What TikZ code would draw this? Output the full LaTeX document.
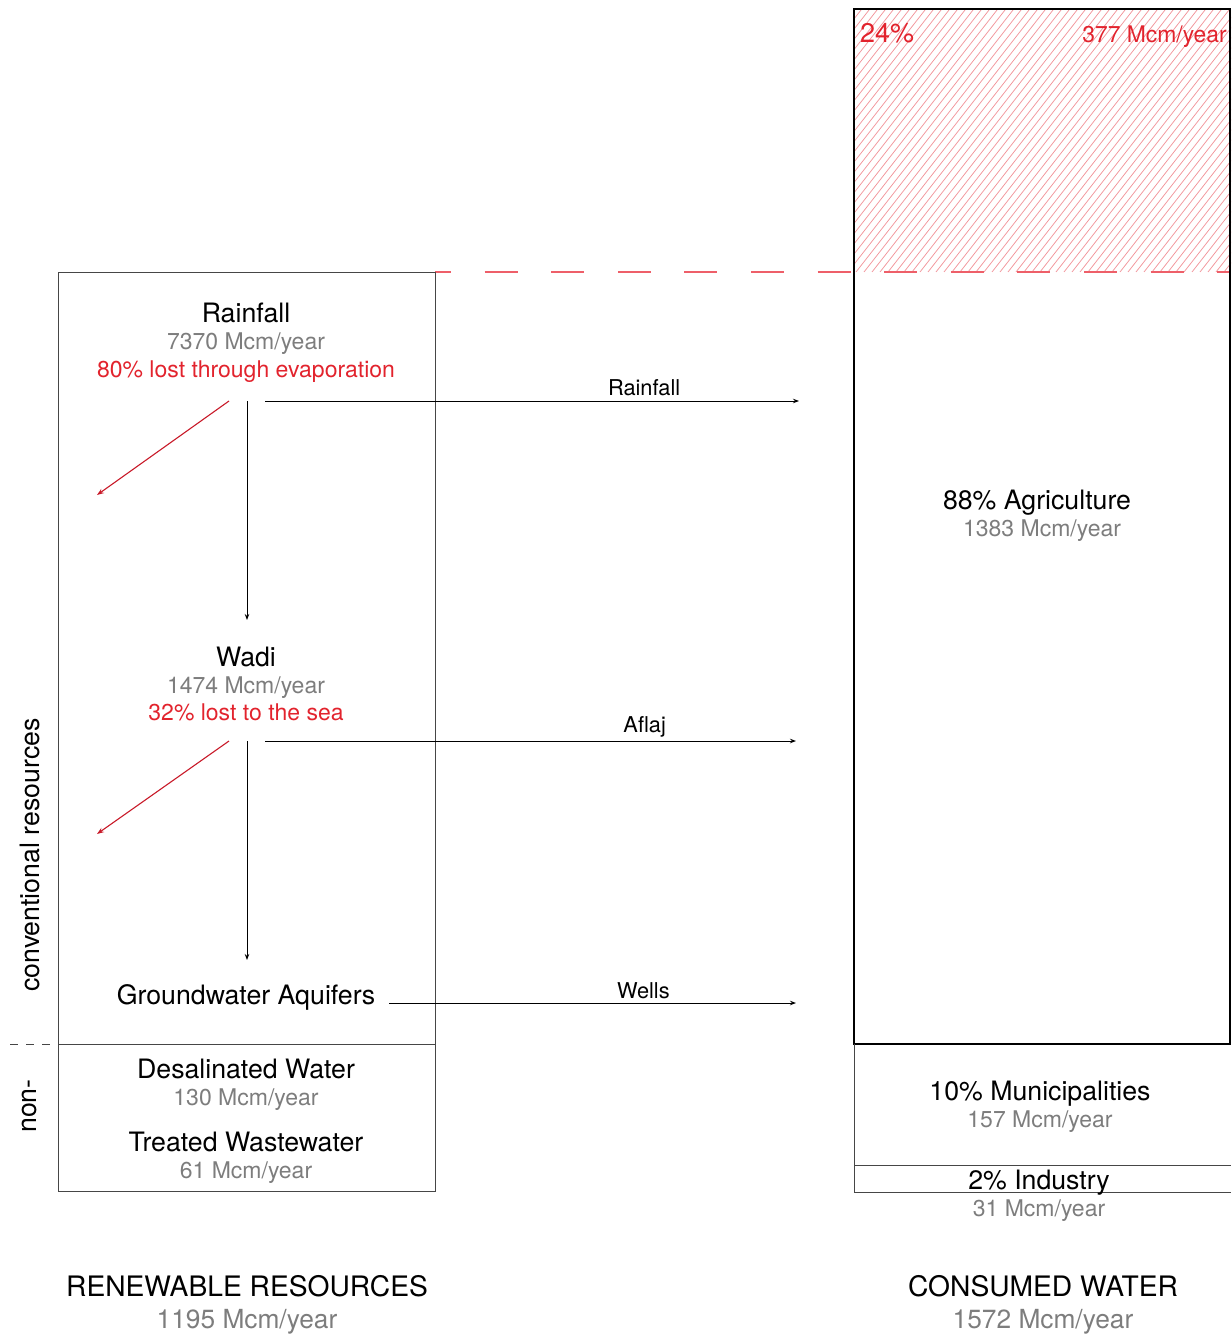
\documentclass[tikz,border=0pt]{standalone}
\usepackage{fontspec}
\setmainfont{TeX Gyre Heros}
\usetikzlibrary{arrows.meta}
\definecolor{accred}{RGB}{226,35,45}
\definecolor{lossred}{RGB}{200,25,40}
\definecolor{dashred}{RGB}{238,95,105}
\definecolor{txtgray}{RGB}{125,125,125}
\definecolor{hatchred}{RGB}{242,150,156}
\definecolor{boxgray}{RGB}{70,70,70}
\begin{document}
\begin{tikzpicture}[x=1pt,y=-1pt,
  title/.style={font=\fontsize{26.7}{30}\selectfont, text=black, inner sep=0pt, anchor=base},
  sub/.style={font=\fontsize{23}{26}\selectfont, text=txtgray, inner sep=0pt, anchor=base},
  redt/.style={font=\fontsize{23}{26}\selectfont, text=accred, inner sep=0pt, anchor=base},
  flowlbl/.style={font=\fontsize{21.8}{24}\selectfont, text=black, inner sep=0pt, anchor=base},
  big/.style={font=\fontsize{28.2}{32}\selectfont, text=black, inner sep=0pt, anchor=base},
  bigsub/.style={font=\fontsize{26.3}{30}\selectfont, text=txtgray, inner sep=0pt, anchor=base},
  flow/.style={-{Stealth[length=6pt,width=4.5pt]}, line width=1pt, draw=black},
  loss/.style={-{Stealth[length=7pt,width=5pt]}, line width=1.1pt, draw=lossred},
  thinbox/.style={draw=boxgray, line width=1pt}
]
\useasboundingbox (0,0) rectangle (1231,1335);

% hatched loss zone
\begin{scope}
  \clip (855,10) rectangle (1231,272);
  \foreach \i in {600,608,...,1240}
    \draw[hatchred, line width=0.75pt] (\i,272) -- (\i+205,10);
\end{scope}
\draw[dashred, line width=1.3pt, dash pattern=on 33pt off 33.6pt, dash phase=17pt] (435,272) -- (1231,272);

% left box
\draw[thinbox] (58,272) rectangle (435,1191);
\draw[thinbox] (58,1044) -- (435,1044);
\draw[boxgray, line width=1pt, dash pattern=on 8pt off 8pt] (10,1044) -- (58,1044);

% right box
\draw[black, line width=2.6pt] (854,9) rectangle (1230,1044);
\draw[thinbox] (854,1044) -- (854,1192) -- (1231,1192);
\draw[thinbox] (854,1165) -- (1231,1165);

% left texts
\node[title] (rain) at (246,322) {Rainfall};
\node[sub] (rainv) at (246,349) {7370 Mcm/year};
\node[redt] (rainl) at (246,377) {80\% lost through evaporation};
\node[title] (wadi) at (246,666) {Wadi};
\node[sub] (wadiv) at (246,693) {1474 Mcm/year};
\node[redt] (wadil) at (246,720) {32\% lost to the sea};
\node[title] (gw) at (246,1004) {Groundwater Aquifers};
\node[title] (desal) at (246,1078) {Desalinated Water};
\node[sub] (desalv) at (246,1105) {130 Mcm/year};
\node[title] (treat) at (246,1151) {Treated Wastewater};
\node[sub] (treatv) at (246,1178) {61 Mcm/year};

\node[title, anchor=center, rotate=90] (conv) at (30,855) {conventional resources};
\node[title, anchor=center, rotate=90] (nonc) at (30,1106) {non-};

% coordinates for connectors
\coordinate (rlossS) at (229,401);
\coordinate (rlossE) at (97,495);
\coordinate (rdownS) at (247,401);
\coordinate (rdownE) at (247,620);
\coordinate (rflowS) at (265,401);
\coordinate (rflowE) at (799,401);
\coordinate (wlossS) at (229,741);
\coordinate (wlossE) at (97,834);
\coordinate (wdownS) at (247,741);
\coordinate (wdownE) at (247,960);
\coordinate (wflowS) at (265,741);
\coordinate (wflowE) at (796,741);
\coordinate (gflowS) at (389,1003);
\coordinate (gflowE) at (796,1003);

\draw[loss] (rlossS) -- (rlossE);
\draw[flow] (rdownS) -- (rdownE);
\draw[flow] (rflowS) -- node[flowlbl, pos=0.71, yshift=6pt] (lrain) {Rainfall} (rflowE);
\draw[loss] (wlossS) -- (wlossE);
\draw[flow] (wdownS) -- (wdownE);
\draw[flow] (wflowS) -- node[flowlbl, pos=0.715, yshift=9pt] (laflaj) {Aflaj} (wflowE);
\draw[flow] (gflowS) -- node[flowlbl, pos=0.625, yshift=5pt] (lwells) {Wells} (gflowE);

% right texts
\node[font=\fontsize{27}{30}\selectfont, text=accred, inner sep=0pt, anchor=base west] (pct) at (860,43) {24\%};
\node[font=\fontsize{22.9}{26}\selectfont, text=accred, inner sep=0pt, anchor=base east] (lossv) at (1227,43) {377 Mcm/year};
\node[title] (agri) at (1037,509) {88\% Agriculture};
\node[sub] (agriv) at (1042,536) {1383 Mcm/year};
\node[title] (muni) at (1040,1100) {10\% Municipalities};
\node[sub] (muniv) at (1040,1127) {157 Mcm/year};
\node[title] (ind) at (1039,1189) {2\% Industry};
\node[sub] (indv) at (1039,1216) {31 Mcm/year};

% bottom titles
\node[big] (ren) at (247,1296) {RENEWABLE RESOURCES};
\node[bigsub] (renv) at (247,1328) {1195 Mcm/year};
\node[big] (cons) at (1043,1296) {CONSUMED WATER};
\node[bigsub] (consv) at (1043,1328) {1572 Mcm/year};
\end{tikzpicture}
\end{document}
